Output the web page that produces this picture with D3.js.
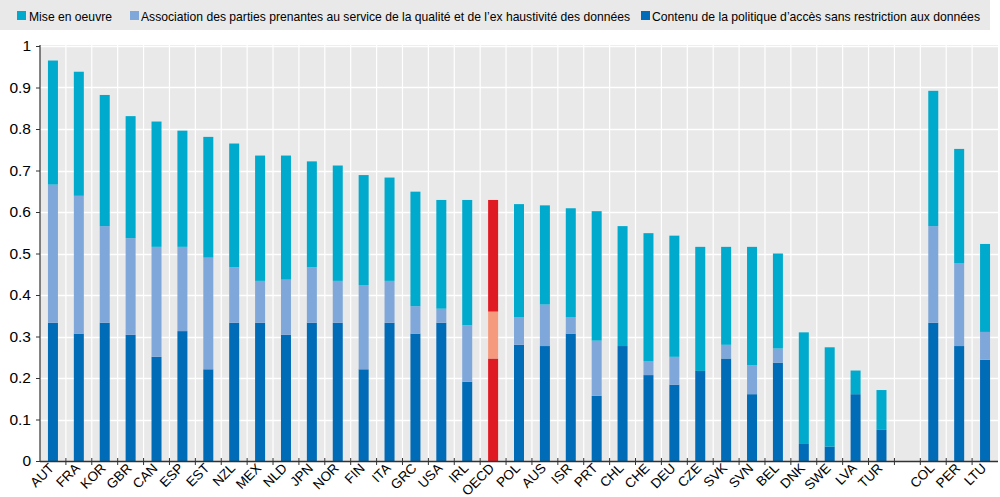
<!DOCTYPE html>
<html><head><meta charset="utf-8">
<script src="https://cdn.jsdelivr.net/npm/d3@7"></script>
<style>body{margin:0;background:#fff;}svg{display:block;font-family:"Liberation Sans",Arial,sans-serif;}</style>
</head><body><div id="chart"></div>
<script>
const categories = ["AUT","FRA","KOR","GBR","CAN","ESP","EST","NZL","MEX","NLD","JPN","NOR","FIN","ITA","GRC","USA","IRL","OECD","POL","AUS","ISR","PRT","CHL","CHE","DEU","CZE","SVK","SVN","BEL","DNK","SWE","LVA","TUR"," ","COL","PER","LTU"];
const contenu = [0.333,0.307,0.333,0.304,0.251,0.313,0.221,0.333,0.333,0.304,0.333,0.333,0.221,0.333,0.307,0.333,0.191,0.247,0.280,0.277,0.307,0.157,0.277,0.207,0.184,0.217,0.247,0.161,0.237,0.041,0.035,0.161,0.075,null,0.333,0.277,0.244];
const association = [0.333,0.332,0.233,0.233,0.265,0.203,0.269,0.134,0.101,0.133,0.134,0.101,0.203,0.101,0.066,0.034,0.136,0.113,0.067,0.100,0.040,0.133,0,0.034,0.067,0,0.033,0.070,0.034,0,0,0,0,null,0.233,0.200,0.067];
const miseEnOeuvre = [0.299,0.299,0.316,0.294,0.302,0.280,0.291,0.298,0.302,0.299,0.255,0.278,0.265,0.249,0.276,0.262,0.302,0.269,0.272,0.239,0.262,0.312,0.289,0.308,0.292,0.299,0.236,0.285,0.229,0.269,0.239,0.057,0.096,null,0.326,0.275,0.212];
const seriesNames = ["Mise en oeuvre","Association des parties prenantes au service de la qualité et de l’ex haustivité des données","Contenu de la politique d’accès sans restriction aux données"];
const yTicks = [0,0.1,0.2,0.3,0.4,0.5,0.6,0.7,0.8,0.9,1];

const W=1000,H=497;
const colors = {contenu:"#006bb6", association:"#7fa7d9", mise:"#00aacc"};
const oecdColors = {contenu:"#e01a22", association:"#f59a7d", mise:"#e01a22"};
const svg = d3.select("#chart").append("svg").attr("width",W).attr("height",H);

// legend band
svg.append("rect").attr("x",0).attr("y",0).attr("width",990).attr("height",30).attr("fill","#e9e9e9");
const legendItems = [
  {name:seriesNames[0], color:colors.mise, x:17, tx:29, len:83},
  {name:seriesNames[1], color:colors.association, x:130, tx:141, len:489},
  {name:seriesNames[2], color:colors.contenu, x:641, tx:652, len:328}
];
legendItems.forEach(d=>{
  svg.append("rect").attr("x",d.x).attr("y",11).attr("width",9).attr("height",9).attr("fill",d.color);
  svg.append("text").attr("x",d.tx).attr("y",20.5).attr("font-size",13.5).attr("fill","#000")
    .attr("textLength",d.len).attr("lengthAdjust","spacingAndGlyphs").text(d.name);
});

const pL=40,pR=998,pT=45,pB=461;
const x = d3.scaleBand().domain(categories).range([pL,pR]).paddingInner(0).paddingOuter(0);
const y = d3.scaleLinear().domain([0,1]).range([pB,46]);

svg.append("rect").attr("x",pL).attr("y",pT).attr("width",pR-pL).attr("height",pB-pT).attr("fill","#e9e9e9");
// horizontal grid
svg.append("g").selectAll("line").data(yTicks.slice(1)).join("line")
  .attr("x1",pL).attr("x2",pR).attr("y1",d=>Math.round(y(d))+0.5).attr("y2",d=>Math.round(y(d))+0.5)
  .attr("stroke","#fff").attr("stroke-width",1.5);
// vertical grid at boundaries
const bounds = categories.slice(1).map(c=>x(c));
svg.append("g").selectAll("line").data(bounds).join("line")
  .attr("x1",d=>d).attr("x2",d=>d).attr("y1",pT).attr("y2",pB)
  .attr("stroke","#fff").attr("stroke-width",1.2);

const data = categories.map((c,i)=>({c, contenu:contenu[i], association:association[i], mise:miseEnOeuvre[i]}));
const keys = ["contenu","association","mise"];
const stack = d3.stack().keys(keys).value((d,k)=>d[k]||0)(data);
const bw = 10;
stack.forEach(layer=>{
  svg.append("g").selectAll("rect").data(layer.filter(d=>d.data.contenu!==null)).join("rect")
    .attr("x",d=>x(d.data.c)+x.bandwidth()/2-bw/2)
    .attr("width",bw)
    .attr("y",d=>y(d[1]))
    .attr("height",d=>Math.max(0,y(d[0])-y(d[1])))
    .attr("fill",d=>d.data.c==="OECD"?oecdColors[layer.key]:colors[layer.key]);
});

// axes
const xAxis = d3.axisBottom(x).tickSize(0).tickPadding(0);
const gx = svg.append("g").attr("transform",`translate(0,${pB})`);
gx.append("line").attr("x1",pL).attr("x2",pR).attr("y1",0.5).attr("y2",0.5).attr("stroke","#333").attr("stroke-width",1.5);
gx.selectAll("line.tk").data(bounds).join("line").attr("class","tk")
  .attr("x1",d=>d).attr("x2",d=>d).attr("y1",-3).attr("y2",4).attr("stroke","#333").attr("stroke-width",1);
const gxl = svg.append("g").attr("transform",`translate(0,${pB})`).call(xAxis);
gxl.select(".domain").remove();
gxl.selectAll("text").attr("font-size",13.5).attr("fill","#000").attr("font-family","Liberation Sans, Arial, sans-serif")
  .attr("text-anchor","end").attr("dy",null).attr("y",0)
  .attr("transform","translate(2,8) rotate(-45)");

const yAxis = d3.axisLeft(y).tickValues(yTicks).tickFormat(d=>d===0?"0":d===1?"1":d3.format(".1f")(d)).tickSize(4).tickPadding(5);
const gy = svg.append("g").attr("transform",`translate(${pL},0)`).call(yAxis);
gy.select(".domain").attr("stroke","#333").attr("stroke-width",1.2).attr("d",`M0,${pT}V${pB}`);
gy.selectAll(".tick line").attr("stroke","#333");
gy.selectAll("text").attr("font-size",15.5).attr("fill","#000").attr("font-family","Liberation Sans, Arial, sans-serif");
</script></body></html>
